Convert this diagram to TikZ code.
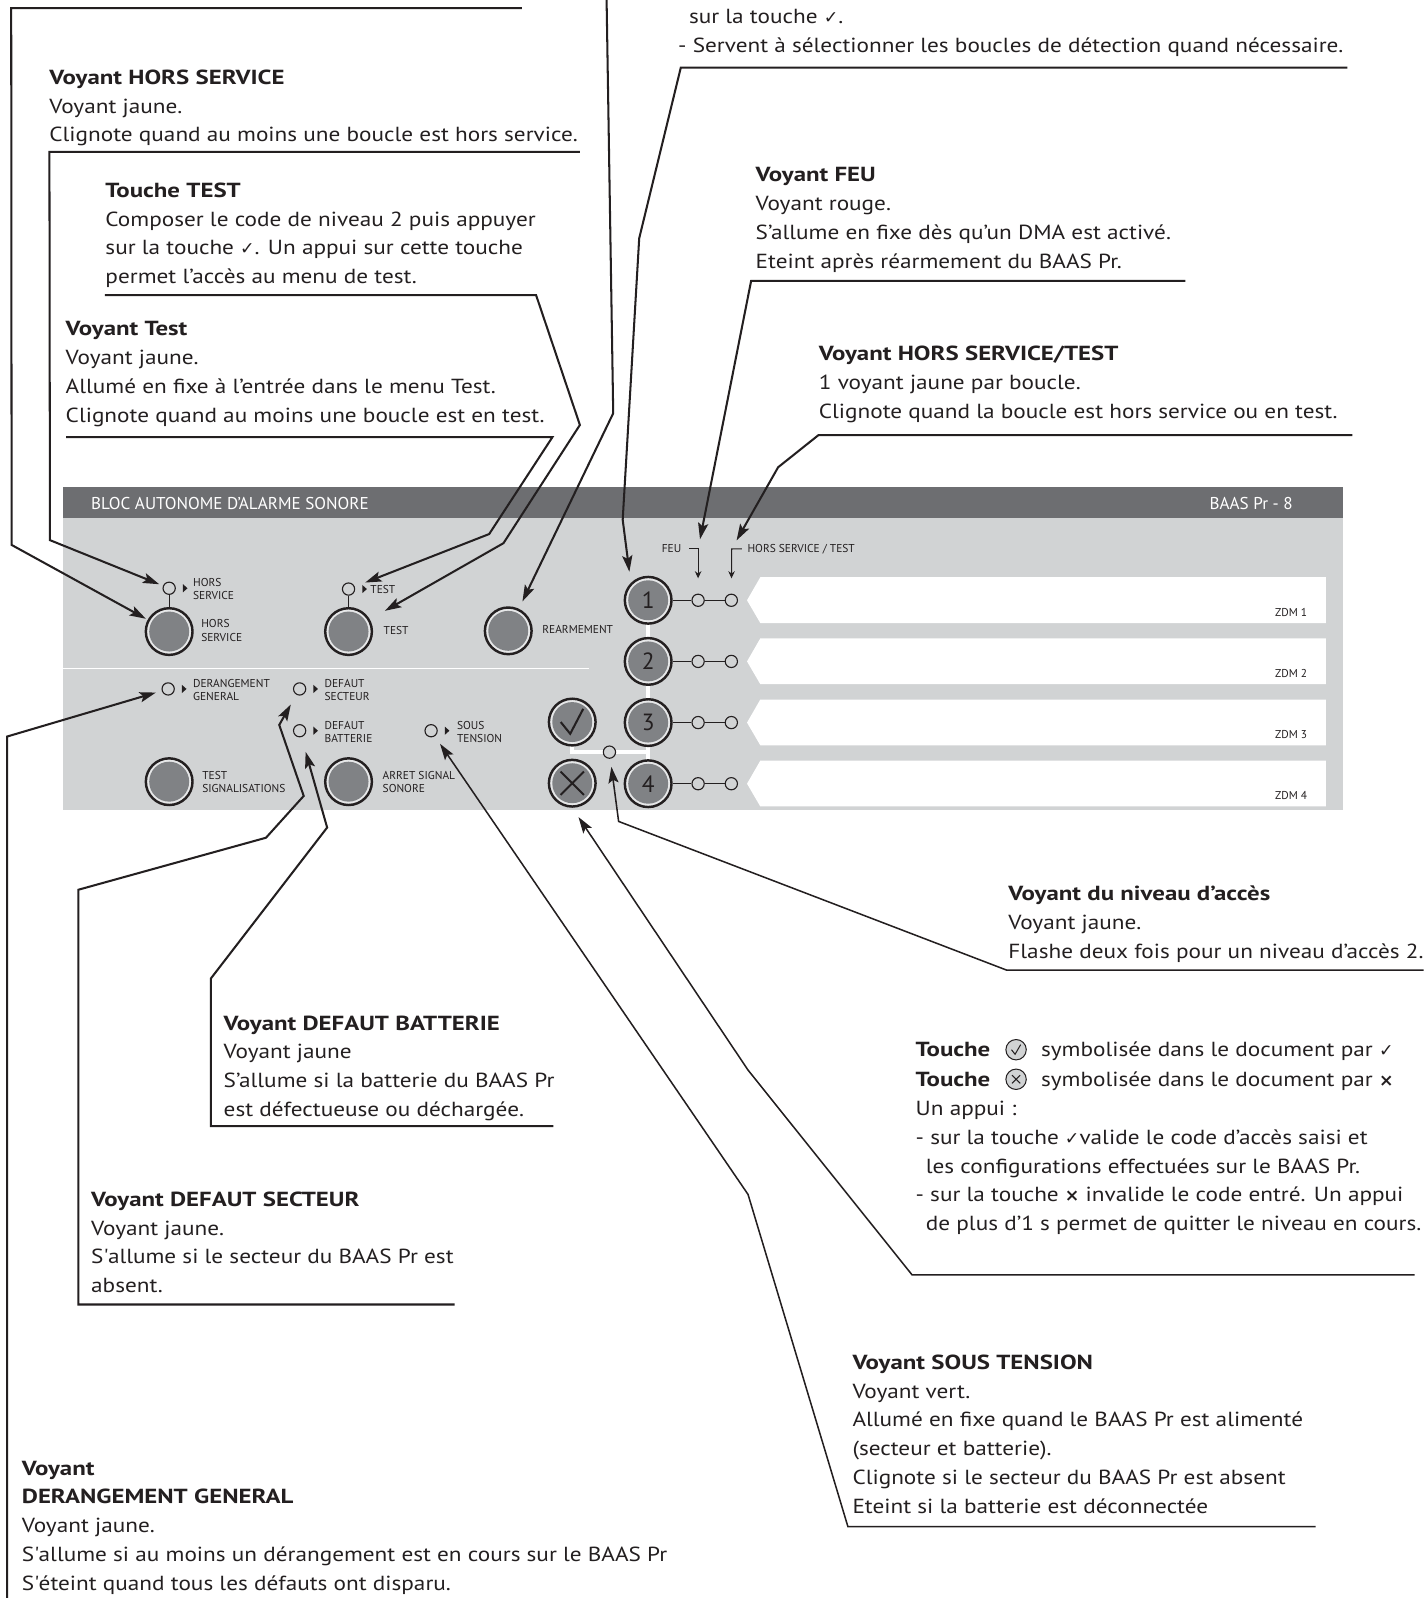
\documentclass[tikz,border=0pt]{standalone}
\usepackage{fontspec}
\setmainfont{PT Sans}[FakeStretch=1.14]
\newfontfamily\hdfont{PT Sans}[FakeStretch=1.22]
\newfontfamily\tagf{PT Sans}
\newfontfamily\symf[Scale=0.85]{DejaVu Sans}
\usetikzlibrary{
	arrows.meta,
	calc,
	positioning
}
\definecolor{headgray}{HTML}{6D6E71}
\definecolor{bodygray}{HTML}{D1D3D4}
\definecolor{knobgray}{HTML}{808285}
\definecolor{ringgray}{HTML}{E6E7E8}
\definecolor{inkblack}{HTML}{231F20}
\tikzset{every path/.append style={line width=0.5pt}}
\tikzset{every path/.append style={>={Stealth[length=8pt,width=5pt,inset=1.6pt]}}}
\tikzset{
	lead/.style={draw=inkblack,line width=1pt,->},
	leadthin/.style={draw=inkblack,line width=0.75pt,->},
	brk/.style={draw=inkblack,line width=0.5pt,-{Stealth[length=3.5pt,width=3.2pt]},shorten >=7.5pt},
	txt/.style={anchor=north west,inner sep=0pt,align=left,font=\fontsize{10}{14.1}\selectfont,text=inkblack},
	txtline/.style={anchor=base west,inner sep=0pt,font=\fontsize{10}{14.1}\selectfont,text=inkblack},
	tag/.style={anchor=west,inner sep=0pt,align=left,font=\tagf\fontsize{5.6}{6.5}\selectfont,text=inkblack},
	headtxt/.style={inner sep=0pt,text=white,font=\tagf\fontsize{8.4}{9}\selectfont},
	led/.style={circle,draw=inkblack,fill=bodygray,line width=0.55pt,minimum size=6pt,inner sep=0pt},
	knob/.style={circle,draw=inkblack,fill=ringgray,line width=1.2pt,minimum size=22.9pt,inner sep=0pt,
		path picture={\fill[knobgray] (path picture bounding box.center) circle (9.8pt);}},
	icon/.style={circle,draw=inkblack,fill=bodygray,line width=0.5pt,minimum size=10pt,inner sep=0pt}
}
\newcommand{\tikzLed}[3][]{\node (#3) at #2 [led,#1]{};}
\newcommand{\tikzKnob}[3][]{\node (#3) at #2 [knob,#1]{};}
\newcommand{\tikzTri}[1]{\fill[inkblack] ($(#1)+(13.5,-4)$) -- ++(4.5,4) -- ++(-4.5,4) -- cycle;}
\newcommand{\hd}[1]{{\hdfont\bfseries #1}}
\newcommand{\symchk}{{\symf ✓}}
\newcommand{\symcrx}{{\symf\bfseries ×}}

\begin{document}
\begin{tikzpicture}[x=0.5pt,y=-0.5pt]
	\useasboundingbox (0,0) rectangle (1397,1568);

	% panel
	\fill[headgray] (62,478) rectangle (1318,508.5);
	\fill[bodygray] (62,508.5) rectangle (1318,794.5);
	\node[headtxt,anchor=west] (title) at (89,494.5) {BLOC AUTONOME D’ALARME SONORE};
	\node[headtxt,anchor=east] (model) at (1269,494.5) {BAAS Pr - 8};
	\draw[white,line width=0.8pt] (62,656) -- (578,656);

	\foreach \n in {1,...,4}{
		\pgfmathsetmacro{\yy}{589+60*(\n-1)}
		\fill[white] (746,{\yy-22.6}) -- (733,\yy) -- (746,{\yy+22.3}) -- (1301,{\yy+22.3}) -- (1301,{\yy-22.6}) -- cycle;
		\node[tag,anchor=east] (zdm\n) at (1283,{\yy+11.5}) {ZDM \n};
	}

	\coordinate (c1) at (636,589);
	\coordinate (c4) at (636,769);
	\coordinate (cok) at (561.5,708.5);
	\coordinate (cko) at (561.5,768.5);
	\coordinate (cmid) at (561.5,738);
	\coordinate (cacc) at (598,738);
	\coordinate (cnum) at (636,738);
	\draw[white,line width=2pt] (c1) -- (c4);
	\draw[white,line width=2pt] (cok) -- (cmid) -- (cnum);

	% buttons
	\tikzKnob{(166,619.7)}{hsbtn}
	\tikzKnob{(342,619.7)}{testbtn}
	\tikzKnob{(498.7,619)}{rearmbtn}
	\tikzKnob{(166,767)}{tsbtn}
	\tikzKnob{(342,767)}{asbtn}
	\tikzKnob{(cok)}{okbtn}
	\tikzKnob{(cko)}{kobtn}
	\draw[inkblack,line width=1pt] ($(okbtn)+(-11.3,0)$) -- ++(9.3,11.5) -- ++(12.8,-24.5);
	\draw[inkblack,line width=1pt] ($(kobtn)+(-11.5,-11.5)$) -- ++(23,23) ($(kobtn)+(-11.5,11.5)$) -- ++(23,-23);

	\node[tag] (hsbtnlbl) at ($(hsbtn)+(31,-1)$) {HORS\\SERVICE};
	\node[tag] (testbtnlbl) at ($(testbtn)+(34,-1)$) {TEST};
	\node[tag] (rearmlbl) at ($(rearmbtn)+(33,-1)$) {REARMEMENT};
	\node[tag] (tslbl) at ($(tsbtn)+(32,0)$) {TEST\\SIGNALISATIONS};
	\node[tag] (aslbl) at ($(asbtn)+(33,0)$) {ARRET SIGNAL\\SONORE};

	% leds
	\tikzLed{(166,577.2)}{hsled}
	\tikzLed{(342,578)}{testled}
	\tikzLed{(165,676)}{dgled}
	\tikzLed{(294,676)}{dsled}
	\tikzLed{(294,717)}{dbled}
	\tikzLed{(423,717)}{stled}
	\tikzLed{(cacc)}{accled}
	\draw[inkblack,line width=0.6pt] (hsled) -- (hsbtn);
	\draw[inkblack,line width=0.6pt] (testled) -- (testbtn);
	\foreach \l in {hsled,testled,dgled,dsled,dbled,stled}{\tikzTri{\l}}
	\node[tag] (hsledlbl) at ($(hsled)+(23,1)$) {HORS\\SERVICE};
	\node[tag] (testledlbl) at ($(testled)+(21,0.5)$) {TEST};
	\node[tag] (dgledlbl) at ($(dgled)+(24,1)$) {DERANGEMENT\\GENERAL};
	\node[tag] (dsledlbl) at ($(dsled)+(24,1)$) {DEFAUT\\SECTEUR};
	\node[tag] (dbledlbl) at ($(dbled)+(24,1)$) {DEFAUT\\BATTERIE};
	\node[tag] (stledlbl) at ($(stled)+(25,1)$) {SOUS\\TENSION};

	\foreach \n in {1,...,4}{
		\pgfmathsetmacro{\yy}{589+60*(\n-1)}
		\node (num\n) at (636,\yy) [knob,font=\tagf\fontsize{11.5}{12}\selectfont,text=inkblack]{\n};
		\tikzLed{(685,\yy)}{feu\n}
		\tikzLed{(717.6,\yy)}{hst\n}
		\draw[inkblack,line width=0.6pt] (num\n) -- (feu\n) -- (hst\n);
	}

	\node[tag,anchor=east] (feulbl) at (669,538.6) {FEU};
	\node[tag] (hstlbl) at (733,538.6) {HORS SERVICE / TEST};
	\coordinate (feuk) at (685,538.6);
	\coordinate (hstk) at (718,538.6);
	\draw[brk] ($(feulbl.east)+(7.5,0)$) -- (feuk) -- (feu1);
	\draw[brk] ($(hstlbl.west)+(-5,0)$) -- (hstk) -- (hst1);

	% texts
	\node[txt] (topmid) at (665,9) {\hspace*{5.3pt}sur la touche \symchk.\\- Servent à sélectionner les boucles de détection quand nécessaire.};
	\node[txt] (hstxt) at (48,68) {\hd{Voyant HORS SERVICE}\\Voyant jaune.\\Clignote quand au moins une boucle est hors service.};
	\node[txt] (tttxt) at (103,179) {\hd{Touche TEST}\\Composer le code de niveau 2 puis appuyer\\sur la touche \symchk. Un appui sur cette touche\\permet l’accès au menu de test.};
	\node[txt] (vttxt) at (64,315) {\hd{Voyant Test}\\Voyant jaune.\\Allumé en fixe à l’entrée dans le menu Test.\\Clignote quand au moins une boucle est en test.};
	\node[txt] (feutxt) at (741,164) {\hd{Voyant FEU}\\Voyant rouge.\\S’allume en fixe dès qu’un DMA est activé.\\Eteint après réarmement du BAAS Pr.};
	\node[txt] (hsttxt) at (803,339) {\hd{Voyant HORS SERVICE/TEST}\\1 voyant jaune par boucle.\\Clignote quand la boucle est hors service ou en test.};
	\node[txt] (acctxt) at (989,869) {\hd{Voyant du niveau d’accès}\\Voyant jaune.\\Flashe deux fois pour un niveau d’accès 2.};

	\node[txtline] (tch1) at (898,1037) {\hd{Touche}};
	\node[icon] (icok) at (997,1030) {};
	\draw[inkblack,line width=0.5pt] ($(icok)+(-4.5,0)$) -- ++(3.5,4.5) -- ++(5.5,-9.5);
	\node[txtline] (tch1b) at (1021,1037) {symbolisée dans le document par \symchk};
	\node[txtline] (tch2) at (898,1066) {\hd{Touche}};
	\node[icon] (icko) at (997,1059) {};
	\draw[inkblack,line width=0.5pt] ($(icko)+(-4,-4)$) -- ++(8,8) ($(icko)+(-4,4)$) -- ++(8,-8);
	\node[txtline] (tch2b) at (1021,1066) {symbolisée dans le document par \symcrx};
	\node[txt] (tchtxt) at (898,1080) {Un appui :\\- sur la touche \symchk valide le code d’accès saisi et\\\hspace*{5pt}les configurations effectuées sur le BAAS Pr.\\- sur la touche \symcrx{} invalide le code entré. Un appui\\\hspace*{5pt}de plus d’1 s permet de quitter le niveau en cours.};

	\node[txt] (sttxt) at (836,1329) {\hd{Voyant SOUS TENSION}\\Voyant vert.\\Allumé en fixe quand le BAAS Pr est alimenté\\(secteur et batterie).\\Clignote si le secteur du BAAS Pr est absent\\Eteint si la batterie est déconnectée};
	\node[txt] (dbtxt) at (219,996) {\hd{Voyant DEFAUT BATTERIE}\\Voyant jaune\\S’allume si la batterie du BAAS Pr\\est défectueuse ou déchargée.};
	\node[txt] (dstxt) at (89,1169) {\hd{Voyant DEFAUT SECTEUR}\\Voyant jaune.\\S\textquotesingle allume si le secteur du BAAS Pr est\\absent.};
	\node[txt] (dgtxt) at (21,1433) {\hd{Voyant}\\\hd{DERANGEMENT GENERAL}\\Voyant jaune.\\S\textquotesingle allume si au moins un dérangement est en cours sur le BAAS Pr\\S\textquotesingle éteint quand tous les défauts ont disparu.};

	% leaders
	\coordinate (topR) at (512,8);
	\draw[lead,shorten >=1pt] (topR) -- (11,8) -- (11.4,534.7) -- (hsbtn);
	\coordinate (hsR) at (569,149);
	\draw[lead,shorten >=2pt] (hsR) -- (48.5,149) -- (49,530) -- (hsled);
	\coordinate (ttL) at (103,289.5);
	\draw[lead,shorten >=8.5pt] (ttL) -- (526,289.5) -- (569,417) -- (494,533) -- (testbtn);
	\coordinate (vtL) at (65,429);
	\draw[lead,shorten >=5.5pt] (vtL) -- (542,429) -- (480,524) -- (testled);
	\coordinate (rmT) at (595.2,0);
	\draw[lead,shorten >=4pt] (rmT) -- (601.7,405.5) -- (rearmbtn);
	\coordinate (svR) at (1322,66.4);
	\draw[lead,shorten >=5.5pt] (svR) -- (668,66.4) -- (627.2,233.8) -- (611,510) -- (num1.north west);
	\coordinate (feuR) at (1163,275.7);
	\draw[lead,shorten >=4.8pt] (feuR) -- (737,275.7) -- (feuk);
	\coordinate (hstR) at (1327,427);
	\draw[lead,shorten >=4.8pt] (hstR) -- (803,427) -- (763.5,458.5) -- (hstk);
	\coordinate (dgB) at (7,1568);
	\draw[lead,shorten >=3pt] (dgB) -- (7,722.7) -- (dgled);
	\coordinate (dsR) at (446,1280);
	\draw[lead,shorten >=5.5pt] (dsR) -- (77,1280) -- (77,873) -- (261,822) -- (298,781) -- (274,711.3) -- (dsled);
	\coordinate (dbR) at (543,1105);
	\draw[lead,shorten >=7.5pt] (dbR) -- (207,1105) -- (207,960) -- (321,812) -- (dbled);
	\coordinate (stR) at (1291,1498);
	\draw[leadthin,shorten >=4.5pt] (stR) -- (832,1498) -- (734,1172) -- (stled);
	\coordinate (tcR) at (1388,1251);
	\draw[leadthin,shorten >=5.5pt] (tcR) -- (895,1251) -- (734,1050) -- (kobtn.south);
	\coordinate (acR) at (1397,952);
	\draw[leadthin,shorten >=4pt] (acR) -- (988,952) -- (607,806) -- (accled);
\end{tikzpicture}
\end{document}
